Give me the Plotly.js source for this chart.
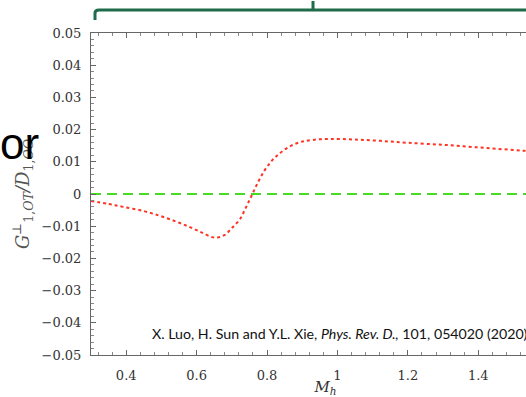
<!DOCTYPE html>
<html><head><meta charset="utf-8">
<script src="https://cdn.plot.ly/plotly-3.0.1.min.js"></script>
<style>html,body{margin:0;padding:0;overflow:hidden;background:#fff;width:526px;height:397px}#plot{width:560px;height:397px}</style>
</head><body><div id="plot"></div>
<script>
const mh = [0.30, 0.35, 0.391, 0.45, 0.496, 0.54, 0.581, 0.615, 0.644, 0.66, 0.68, 0.70, 0.723, 0.74, 0.757, 0.775, 0.794, 0.815, 0.837, 0.865, 0.894, 0.93, 0.979, 1.05, 1.121, 1.20, 1.311, 1.42, 1.533, 1.63];
const ratio = [-0.0022, -0.0031, -0.0040, -0.0053, -0.0068, -0.0085, -0.0103, -0.0120, -0.0134, -0.0135, -0.0127, -0.0106, -0.0078, -0.0042, -0.0003, 0.0038, 0.0075, 0.0105, 0.0127, 0.0148, 0.0161, 0.0168, 0.0171, 0.0169, 0.0165, 0.0159, 0.0152, 0.0143, 0.0134, 0.0127];
const zeroX = [0.30, 1.63];
const zeroY = [0, 0];
const citation = "X. Luo, H. Sun and Y.L. Xie, <i>Phys. Rev. D.,</i> 101, 054020 (2020)";

const axisCommon = {
  showgrid: false, zeroline: false, showline: true, linecolor: '#666', linewidth: 1,
  mirror: 'ticks', ticks: 'inside', ticklen: 5, tickcolor: '#666', tickwidth: 1,
  ticklabelstandoff: 6,
  tickfont: {family: 'DejaVu Serif, Liberation Serif, serif', size: 13, color: '#333'}
};

const data = [
  {x: zeroX, y: zeroY, mode: 'lines', line: {color: '#44dd22', width: 2, dash: '10px,6px'}, hoverinfo: 'skip'},
  {x: mh, y: ratio, mode: 'lines', line: {color: '#ff3322', width: 2, dash: 'dot', shape: 'spline'}, hoverinfo: 'skip'}
];

const layout = {
  width: 560, height: 397,
  margin: {l: 91, r: 0, t: 33, b: 42},
  paper_bgcolor: '#fff', plot_bgcolor: '#fff',
  showlegend: false,
  xaxis: Object.assign({}, axisCommon, {
    range: [0.3, 1.632], tickvals: [0.4, 0.6, 0.8, 1, 1.2, 1.4], ticktext: ['0.4','0.6','0.8','1','1.2','1.4'],
    ticklabelstandoff: 8,
    minor: {dtick: 0.04, tick0: 0, ticks: 'inside', ticklen: 3, tickcolor: '#888'},
    title: {text: '<i>M<sub>h</sub></i>', font: {family: 'DejaVu Serif, serif', size: 15, color: '#333'}, standoff: 2}
  }),
  yaxis: Object.assign({}, axisCommon, {
    range: [-0.05, 0.05], dtick: 0.01, tick0: 0,
    minor: {dtick: 0.002, ticks: 'inside', ticklen: 3, tickcolor: '#888'},
    title: {text: '<i>G</i><sup>⊥</sup><sub>1,<i>OT</i></sub><i>/D</i><sub>1,<i>OO</i></sub>', font: {family: 'DejaVu Serif, serif', size: 18, color: '#555'}, standoff: 7}
  }),
  annotations: [
    {xref: 'paper', yref: 'paper', x: 59/469, y: (397-333-42)/322, xanchor: 'left', yanchor: 'middle', showarrow: false,
     text: citation, font: {family: 'Lato, Open Sans, sans-serif', size: 14.2, color: '#111'}},
    {xref: 'paper', yref: 'paper', x: -93/469, y: (397-143-42)/322, xanchor: 'left', yanchor: 'middle', showarrow: false,
     text: 'or', font: {family: 'Liberation Sans, Arial, sans-serif', size: 44, color: '#000'}}
  ],
  shapes: [
    {type: 'path', xref: 'paper', yref: 'paper', layer: 'above',
     path: 'M ' + (4/469) + ' ' + ((397-20-42)/322) + ' L ' + (4/469) + ' ' + ((397-13-42)/322) +
           ' Q ' + (4/469) + ' ' + ((397-10-42)/322) + ' ' + (8/469) + ' ' + ((397-10-42)/322) +
           ' L ' + (520/469) + ' ' + ((397-10-42)/322),
     line: {color: '#1f6b4b', width: 3}},
    {type: 'line', xref: 'paper', yref: 'paper', layer: 'above',
     x0: 222/469, x1: 222/469, y0: (397-10-42)/322, y1: (397-1-42)/322,
     line: {color: '#1f6b4b', width: 3}}
  ]
};
Plotly.newPlot('plot', data, layout, {staticPlot: true, displayModeBar: false});
</script></body></html>
